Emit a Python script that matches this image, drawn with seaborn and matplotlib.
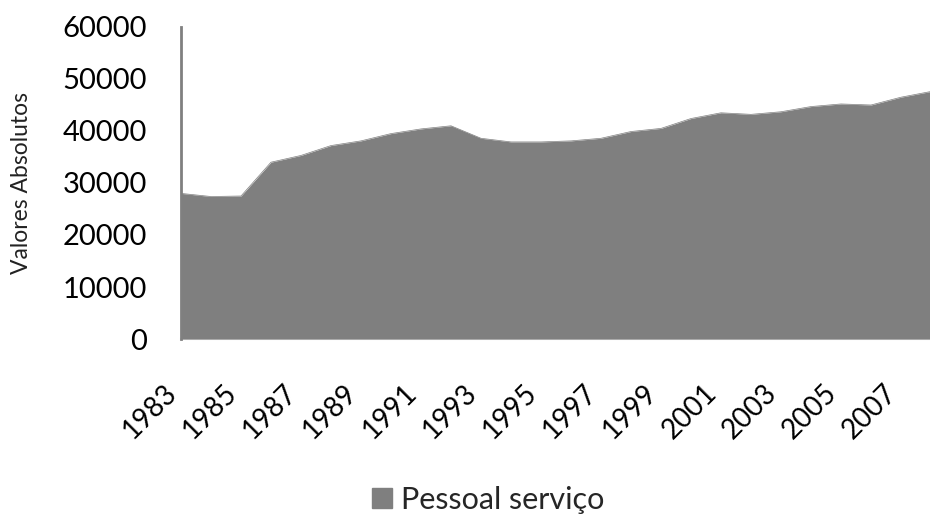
import matplotlib
matplotlib.use("Agg")
import matplotlib.pyplot as plt
import matplotlib.patches as mpatches
import matplotlib.transforms as mtransforms
import seaborn as sns
import pandas as pd

years = list(range(1983, 2009))
pessoal_servico = [28000, 27400, 27500, 34000, 35300, 37200, 38100, 39500, 40400,
                   41000, 38600, 37900, 37900, 38100, 38600, 39900, 40500, 42400,
                   43500, 43200, 43700, 44700, 45200, 45000, 46500, 47600]
tick_years = list(range(1983, 2008, 2))
series_name = "Pessoal serviço"
y_label = "Valores Absolutos"

df = pd.DataFrame({"Ano": years, "Valor": pessoal_servico})

sns.set_theme(style="white")
plt.rcParams["font.family"] = ["Lato", "DejaVu Sans"]

fig = plt.figure(figsize=(9.3, 5.16), dpi=100)
ax = fig.add_axes([181 / 930, 1 - 339 / 516, 750 / 930, 312 / 516])

color = "#7f7f7f"
sns.lineplot(data=df, x="Ano", y="Valor", ax=ax, color=color, linewidth=0.5)
ax.fill_between(df["Ano"], df["Valor"], 0, color=color, linewidth=0)

ax.set_xlim(1983, 2008)
ax.set_ylim(0, 60000)
ax.set_yticks(range(0, 60001, 10000))
ax.set_yticklabels([str(v) for v in range(0, 60001, 10000)], fontsize=21, color="black")
ax.set_xticks(tick_years)
ax.set_xticklabels([str(y) for y in tick_years], rotation=45, ha="right", va="center",
                   rotation_mode="anchor", fontsize=20, color="black")
ax.tick_params(axis="y", length=0, pad=24.5)
ax.tick_params(axis="x", length=0, pad=31)
offset = mtransforms.ScaledTranslation(-8 / 100, -7 / 100, fig.dpi_scale_trans)
for lbl in ax.get_xticklabels():
    lbl.set_transform(lbl.get_transform() + offset)

ax.set_xlabel("")
ax.set_ylabel(y_label, fontsize=16.5, color="#222222")
ax.yaxis.set_label_coords(-0.199, 0.5)

for s in ["top", "right"]:
    ax.spines[s].set_visible(False)
ax.spines["left"].set_color("#808080")
ax.spines["left"].set_linewidth(2)
ax.spines["bottom"].set_color("#d9d9d9")
ax.spines["bottom"].set_linewidth(1.5)
ax.spines["bottom"].set_zorder(0)

handle = mpatches.Patch(color=color, label=series_name)
fig.legend(handles=[handle], loc="center", bbox_to_anchor=(0.525, 1 - 500 / 516),
           frameon=False, fontsize=22, handlelength=0.65, handleheight=0.65,
           handletextpad=0.3)

fig.savefig("out.png", dpi=100)
